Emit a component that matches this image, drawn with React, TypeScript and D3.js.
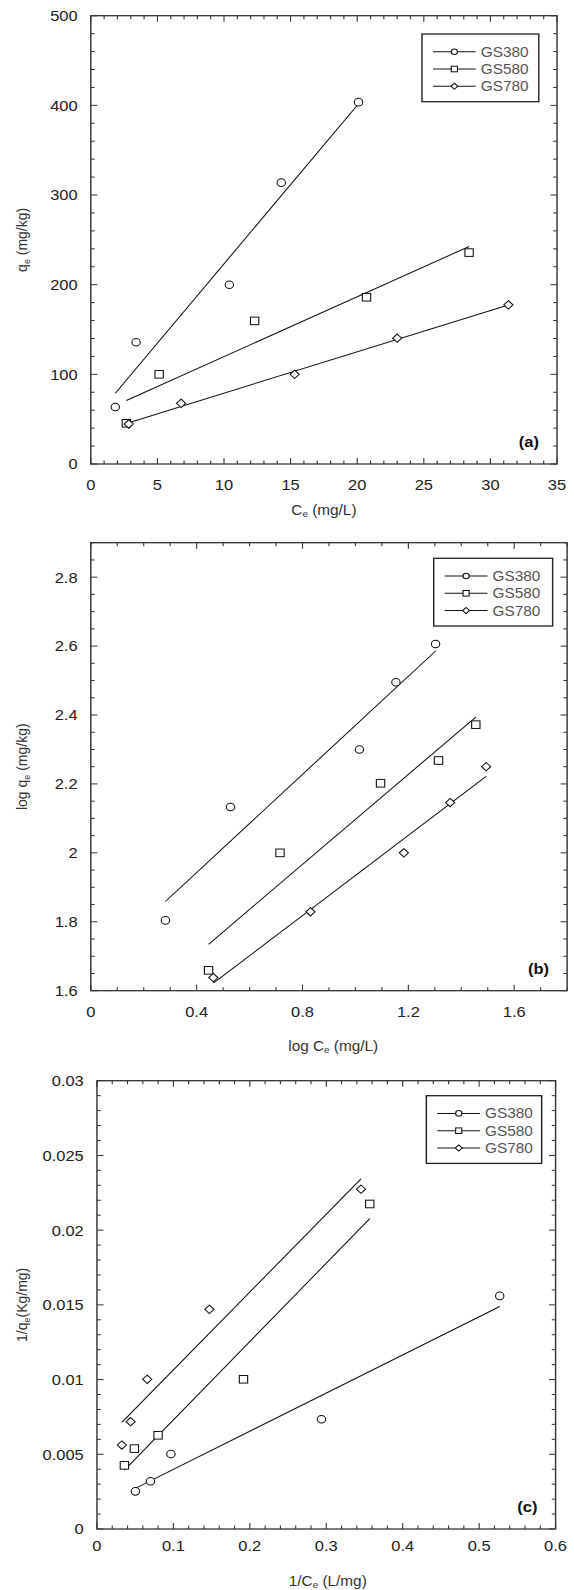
import React from "react";
import * as d3 from "d3";

// series names shared by the three panels
const seriesNames = ["GS380", "GS580", "GS780"];
const seriesShapes = ["circle", "square", "diamond"];

// (a) qe vs Ce
const ceA380 = [1.84, 3.4, 10.4, 14.3, 20.1];
const qeA380 = [63.6, 135.8, 200, 313.8, 403.6];
const ceA580 = [2.67, 5.13, 12.3, 20.7, 28.4];
const qeA580 = [45.4, 100, 159.6, 186, 235.8];
const ceA780 = [2.85, 6.78, 15.3, 23.0, 31.35];
const qeA780 = [44.6, 67.7, 100, 140.3, 177.5];
const xTicksA = [0, 5, 10, 15, 20, 25, 30, 35];
const yTicksA = [0, 100, 200, 300, 400, 500];

// (b) log qe vs log Ce
const logCeB380 = [0.282, 0.528, 1.015, 1.153, 1.303];
const logQeB380 = [1.804, 2.133, 2.3, 2.495, 2.606];
const logCeB580 = [0.445, 0.715, 1.095, 1.314, 1.455];
const logQeB580 = [1.659, 2.0, 2.202, 2.268, 2.372];
const logCeB780 = [0.463, 0.83, 1.183, 1.358, 1.494];
const logQeB780 = [1.638, 1.829, 2.0, 2.146, 2.25];
const xTicksB = [0, 0.4, 0.8, 1.2, 1.6];
const yTicksB = [1.6, 1.8, 2, 2.2, 2.4, 2.6, 2.8];

// (c) 1/qe vs 1/Ce
const invCeC380 = [0.0503, 0.07, 0.0968, 0.2937, 0.5269];
const invQeC380 = [0.00252, 0.00319, 0.00502, 0.00734, 0.0156];
const invCeC580 = [0.0359, 0.0489, 0.08, 0.1917, 0.3569];
const invQeC580 = [0.00426, 0.00538, 0.00627, 0.01002, 0.02175];
const invCeC780 = [0.0326, 0.0441, 0.0657, 0.1471, 0.3454];
const invQeC780 = [0.00562, 0.00718, 0.01002, 0.0147, 0.02274];
const xTicksC = [0, 0.1, 0.2, 0.3, 0.4, 0.5, 0.6];
const yTicksC = [0, 0.005, 0.01, 0.015, 0.02, 0.025, 0.03];

const font = "'Liberation Sans', Arial, sans-serif";
// the source figure is a little stretched sideways
const stretchX = 1.098;

type Panel = {
  box: [number, number, number, number]; // left, right, top, bottom
  xDomain: [number, number];
  yDomain: [number, number];
  xTicks: number[];
  yTicks: number[];
  xMinor: number;
  yMinor: number;
  xs: number[][];
  ys: number[][];
  legend: [number, number, number]; // x, y, width
  tag: string;
  xTitle: [string, string, string];
  yTitle: [string, string, string];
  xTitlePos: [number, number];
  xLabelDy: number;
};

const panels: Panel[] = [
  {
    box: [82.7, 507.3, 15.7, 464],
    xDomain: [0, 35],
    yDomain: [0, 500],
    xTicks: xTicksA,
    yTicks: yTicksA,
    xMinor: 1,
    yMinor: 20,
    xs: [ceA380, ceA580, ceA780],
    ys: [qeA380, qeA580, qeA780],
    legend: [384.3, 34, 106.4],
    tag: "(a)",
    xTitle: ["C", "e", " (mg/L)"],
    yTitle: ["q", "e", " (mg/kg)"],
    xTitlePos: [295, 515],
    xLabelDy: 26,
  },
  {
    box: [82.7, 516.5, 542.7, 990.7],
    xDomain: [0, 1.8],
    yDomain: [1.6, 2.9],
    xTicks: xTicksB,
    yTicks: yTicksB,
    xMinor: 0.1,
    yMinor: 0.05,
    xs: [logCeB380, logCeB580, logCeB780],
    ys: [logQeB380, logQeB580, logQeB780],
    legend: [395, 558.3, 108.3],
    tag: "(b)",
    xTitle: ["log C", "e", " (mg/L)"],
    yTitle: ["log q", "e", " (mg/kg)"],
    xTitlePos: [303.5, 1051],
    xLabelDy: 26.5,
  },
  {
    box: [88.3, 506, 1080.7, 1529],
    xDomain: [0, 0.6],
    yDomain: [0, 0.03],
    xTicks: xTicksC,
    yTicks: yTicksC,
    xMinor: 0.02,
    yMinor: 0.001,
    xs: [invCeC380, invCeC580, invCeC780],
    ys: [invQeC380, invQeC580, invQeC780],
    legend: [388.3, 1095.7, 105],
    tag: "(c)",
    xTitle: ["1/C", "e", " (L/mg)"],
    yTitle: ["1/q", "e", "(Kg/mg)"],
    xTitlePos: [298.5, 1586],
    xLabelDy: 22.5,
  },
];

function fit(x: number[], y: number[]) {
  const mx = d3.mean(x)!;
  const my = d3.mean(y)!;
  let sxy = 0;
  let sxx = 0;
  x.forEach((v, i) => {
    sxy += (v - mx) * (y[i] - my);
    sxx += (v - mx) * (v - mx);
  });
  const slope = sxy / sxx;
  return { slope, intercept: my - slope * mx };
}

function minors(domain: [number, number], step: number, majors: number[]) {
  const n = Math.round((domain[1] - domain[0]) / step);
  return d3
    .range(n + 1)
    .map((i) => domain[0] + i * step)
    .filter((v) => !majors.some((m) => Math.abs(m - v) < step / 10));
}

function Marker({ shape, x, y, s }: { shape: string; x: number; y: number; s: number }) {
  const st = { fill: "#fff", stroke: "#111", strokeWidth: 1 };
  if (shape === "circle") return <circle cx={x} cy={y} r={s} {...st} />;
  if (shape === "square")
    return <rect x={x - s} y={y - s} width={2 * s} height={2 * s} {...st} />;
  const d = s * 1.1;
  return <path d={`M${x},${y - d}L${x + d},${y}L${x},${y + d}L${x - d},${y}Z`} {...st} />;
}

function ChartPanel({ p }: { p: Panel }) {
  const [l, r, t, b] = p.box;
  const x = d3.scaleLinear().domain(p.xDomain).range([l, r]);
  const y = d3.scaleLinear().domain(p.yDomain).range([b, t]);
  const xm = minors(p.xDomain, p.xMinor, p.xTicks);
  const ym = minors(p.yDomain, p.yMinor, p.yTicks);
  const line = d3
    .line<number[]>()
    .x((d) => x(d[0]))
    .y((d) => y(d[1]));
  const tickStroke = { stroke: "#333", strokeWidth: 1 };
  const [lx, ly, lw] = p.legend;

  return (
    <g fontFamily={font}>
      {/* ticks point inward on all four sides */}
      {p.xTicks.map((v) => (
        <g key={"xt" + v}>
          <line x1={x(v)} x2={x(v)} y1={b} y2={b - 6} {...tickStroke} />
          <line x1={x(v)} x2={x(v)} y1={t} y2={t + 6} {...tickStroke} />
          <text x={x(v)} y={b + p.xLabelDy} textAnchor="middle" fontSize={15} fill="#222">
            {String(v)}
          </text>
        </g>
      ))}
      {xm.map((v) => (
        <g key={"xm" + v}>
          <line x1={x(v)} x2={x(v)} y1={b} y2={b - 3.5} {...tickStroke} />
          <line x1={x(v)} x2={x(v)} y1={t} y2={t + 3.5} {...tickStroke} />
        </g>
      ))}
      {p.yTicks.map((v) => (
        <g key={"yt" + v}>
          <line x1={l} x2={l + 6} y1={y(v)} y2={y(v)} {...tickStroke} />
          <line x1={r} x2={r - 6} y1={y(v)} y2={y(v)} {...tickStroke} />
          <text x={l - 12} y={y(v) + 5.4} textAnchor="end" fontSize={15} fill="#222">
            {String(v)}
          </text>
        </g>
      ))}
      {ym.map((v) => (
        <g key={"ym" + v}>
          <line x1={l} x2={l + 3.5} y1={y(v)} y2={y(v)} {...tickStroke} />
          <line x1={r} x2={r - 3.5} y1={y(v)} y2={y(v)} {...tickStroke} />
        </g>
      ))}
      <rect x={l} y={t} width={r - l} height={b - t} fill="none" stroke="#333" strokeWidth={1.3} />

      {/* least-squares lines over each series' range */}
      {p.xs.map((xs, i) => {
        const f = fit(xs, p.ys[i]);
        const ext = d3.extent(xs) as [number, number];
        const pts = ext.map((v) => [v, f.intercept + f.slope * v]);
        return <path key={"fit" + i} d={line(pts)!} fill="none" stroke="#111" strokeWidth={1} />;
      })}
      {p.xs.map((xs, i) =>
        xs.map((v, j) => (
          <Marker key={`m${i}-${j}`} shape={seriesShapes[i]} x={x(v)} y={y(p.ys[i][j])} s={3.8} />
        ))
      )}

      {/* legend */}
      <rect x={lx} y={ly} width={lw} height={67.7} fill="#fff" stroke="#222" strokeWidth={1.3} />
      {seriesNames.map((name, i) => {
        const yy = ly + 17.7 + i * 17.3;
        return (
          <g key={name}>
            <line x1={lx + 10} x2={lx + 49} y1={yy} y2={yy} stroke="#111" strokeWidth={1} />
            <Marker shape={seriesShapes[i]} x={lx + 29.5} y={yy} s={2.8} />
            <text x={lx + 53.5} y={yy + 5} fontSize={14} fill="#555">
              {name}
            </text>
          </g>
        );
      })}

      <text x={r - 16.5} y={b - 17} textAnchor="end" fontSize={15} fontWeight="bold" fill="#111">
        {p.tag}
      </text>

      {/* axis titles with subscript e */}
      <text x={p.xTitlePos[0]} y={p.xTitlePos[1]} textAnchor="middle" fontSize={14} fill="#333">
        <tspan>{p.xTitle[0]}</tspan>
        <tspan fontSize={9} dy={2}>{p.xTitle[1]}</tspan>
        <tspan dy={-2}>{p.xTitle[2]}</tspan>
      </text>
      <text
        transform={`translate(25,${(t + b) / 2}) rotate(-90)`}
        textAnchor="middle"
        fontSize={14}
        fill="#333"
      >
        <tspan>{p.yTitle[0]}</tspan>
        <tspan fontSize={9} dy={2}>{p.yTitle[1]}</tspan>
        <tspan dy={-2}>{p.yTitle[2]}</tspan>
      </text>
    </g>
  );
}

export default function App() {
  return (
    <svg
      width={574}
      height={1590}
      style={{ position: "absolute", left: 0, top: 0, display: "block", background: "#fff" }}
    >
      <g transform={`scale(${stretchX},1)`}>
        {panels.map((p) => (
          <ChartPanel key={p.tag} p={p} />
        ))}
      </g>
    </svg>
  );
}
